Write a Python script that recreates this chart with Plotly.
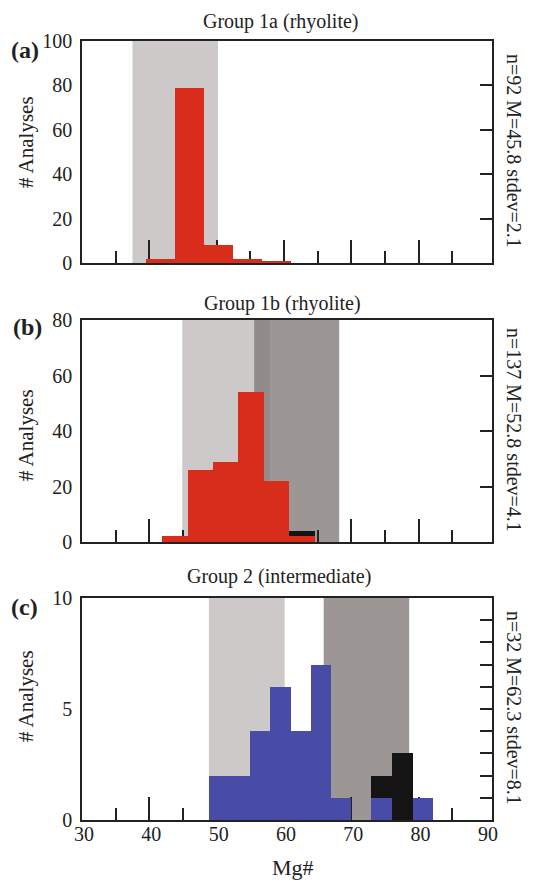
import numpy as np
import plotly.graph_objects as go

# ---------------- data ----------------
X_RANGE = [30, 90.9]
x_label_vals = [30, 40, 50, 60, 70, 80, 90]
x_major_ticks = [40, 50, 60, 70, 80]
x_minor_ticks = [35, 45, 55, 65, 75, 85]

titles = ["Group 1a (rhyolite)", "Group 1b (rhyolite)", "Group 2 (intermediate)"]
panel_tags = ["(a)", "(b)", "(c)"]
stats = ["n=92 M=45.8 stdev=2.1", "n=137 M=52.8 stdev=4.1", "n=32 M=62.3 stdev=8.1"]

a_edges = [39.5, 43.8, 48.1, 52.4, 56.7, 61.0]
a_red = [2, 79, 8, 2, 1]
a_light = [37.5, 50.2]

b_edges = [41.9, 45.7, 49.5, 53.2, 57.1, 60.8, 64.6]
b_red = [2, 26, 29, 54, 22, 2]
b_black = [0, 0, 0, 0, 0, 2]
b_light = [44.9, 57.9]
b_dark = [55.6, 68.2]

c_edges = [48.8, 51.85, 54.9, 57.95, 61.0, 64.0, 67.0, 70.0, 73.0, 76.0, 79.1, 82.1]
c_blue = [2, 2, 4, 6, 4, 7, 1, 0, 1, 0, 1]
c_black = [0, 0, 0, 0, 0, 0, 0, 0, 1, 3, 0]
c_light = [48.85, 60.1]
c_dark = [65.9, 78.6]

y_ranges = [[0, 100], [0, 80], [0, 10]]
y_label_vals = [[0, 20, 40, 60, 80, 100], [0, 20, 40, 60, 80], [0, 5, 10]]
y_right_ticks = [[20, 40, 60, 80], [20, 40, 60], [1, 2, 3, 4, 5, 6, 7, 8, 9]]

# ---------------- style ----------------
RED = "#d92d1c"
BLUE = "#484ca6"
BLACK = "#141414"
LIGHT = "#cdc9c8"
DARK = "#9c9795"
OVERLAP = "#918b89"
INK = "#222222"
FONT = "Liberation Serif"

W, H = 536, 885
ML, MR, MT, MB = 82, 44, 41, 65
PH = H - MT - MB
panel_px = [(41, 263), (320, 542), (598, 820)]


def ypaper(px):
    return (H - MB - px) / PH


domains = [[ypaper(b), ypaper(t)] for t, b in panel_px]


def centers_widths(edges):
    e = np.array(edges, dtype=float)
    return (e[:-1] + e[1:]) / 2, np.diff(e)


fig = go.Figure()

panels = [
    {"edges": a_edges, "series": [(a_red, RED)], "light": a_light, "dark": None},
    {"edges": b_edges, "series": [(b_red, RED), (b_black, BLACK)], "light": b_light, "dark": b_dark},
    {"edges": c_edges, "series": [(c_blue, BLUE), (c_black, BLACK)], "light": c_light, "dark": c_dark},
]

shapes = []
for i, p in enumerate(panels):
    n = i + 1
    xr = "x" if n == 1 else f"x{n}"
    yr = "y" if n == 1 else f"y{n}"
    cx, wx = centers_widths(p["edges"])
    for vals, col in p["series"]:
        fig.add_trace(go.Bar(
            x=cx, y=vals, width=wx, marker=dict(color=col, line=dict(width=0)),
            xaxis=xr, yaxis=yr, showlegend=False, hoverinfo="skip"))
    # shaded ranges
    shapes.append(dict(type="rect", xref=xr, yref=f"{yr} domain", x0=p["light"][0], x1=p["light"][1],
                       y0=0, y1=1, fillcolor=LIGHT, line=dict(width=0), layer="below"))
    if p["dark"] is not None:
        shapes.append(dict(type="rect", xref=xr, yref=f"{yr} domain", x0=p["dark"][0], x1=p["dark"][1],
                           y0=0, y1=1, fillcolor=DARK, line=dict(width=0), layer="below"))
        lo = max(p["light"][0], p["dark"][0])
        hi = min(p["light"][1], p["dark"][1])
        if hi > lo:
            shapes.append(dict(type="rect", xref=xr, yref=f"{yr} domain", x0=lo, x1=hi,
                               y0=0, y1=1, fillcolor=OVERLAP, line=dict(width=0), layer="below"))

layout = dict(
    width=W, height=H, margin=dict(l=ML, r=MR, t=MT, b=MB),
    paper_bgcolor="white", plot_bgcolor="white", barmode="stack", bargap=0,
    font=dict(family=FONT, size=20, color=INK), shapes=shapes, showlegend=False,
)

for i in range(3):
    n = i + 1
    xk = "xaxis" if n == 1 else f"xaxis{n}"
    yk = "yaxis" if n == 1 else f"yaxis{n}"
    ya = "y" if n == 1 else f"y{n}"
    xa = "x" if n == 1 else f"x{n}"
    layout[xk] = dict(
        domain=[0, 1], anchor=ya, range=X_RANGE, showgrid=False, zeroline=False,
        showline=True, mirror=True, linecolor=INK, linewidth=1.5,
        tickmode="array", tickvals=x_major_ticks, ticks="inside", ticklen=23,
        tickwidth=1.5, tickcolor=INK, showticklabels=False, layer="below traces",
        minor=dict(tickmode="array", tickvals=x_minor_ticks, ticks="inside", ticklen=12,
                   tickwidth=1.5, tickcolor=INK, showgrid=False),
    )
    layout[yk] = dict(
        domain=domains[i], anchor=xa, range=y_ranges[i], showgrid=False, zeroline=False,
        showline=True, mirror=True, linecolor=INK, linewidth=1.5,
        tickmode="array", tickvals=y_label_vals[i], ticks="", showticklabels=True,
        ticklabelstandoff=4,
        tickfont=dict(size=20, family=FONT, color=INK),
    )
    # right-side inward ticks
    layout[f"yaxis{n + 3}"] = dict(
        overlaying=ya, anchor=xa, side="right", range=y_ranges[i], showgrid=False,
        zeroline=False, showline=False, tickmode="array", tickvals=y_right_ticks[i],
        ticks="inside", ticklen=12, tickwidth=1.5, tickcolor=INK, showticklabels=False,
    )

# x labels for bottom panel on an overlay axis
layout["xaxis4"] = dict(
    overlaying="x3", anchor="y3", range=X_RANGE, showgrid=False, zeroline=False,
    showline=False, tickmode="array", tickvals=x_label_vals, ticks="", side="bottom",
    ticklabelshift=2,
    tickfont=dict(size=20, family=FONT, color=INK),
)

fig.update_layout(**layout)

# invisible traces so overlay axes are drawn
for n in range(1, 4):
    xa = "x" if n == 1 else f"x{n}"
    fig.add_trace(go.Scatter(x=[X_RANGE[0]], y=[y_ranges[n - 1][0]], xaxis=xa, yaxis=f"y{n + 3}",
                             mode="markers", marker=dict(opacity=0), showlegend=False, hoverinfo="skip"))
fig.add_trace(go.Scatter(x=[X_RANGE[0]], y=[0], xaxis="x4", yaxis="y3", mode="markers",
                         marker=dict(opacity=0), showlegend=False, hoverinfo="skip"))

# annotations
title_px = [(281, 21), (282, 304), (279, 576)]
tag_px = [(25, 50), (27, 327), (24, 607)]
ytitle_py = [142, 435, 696]
stat_py = [151, 430, 708]

ann = []
for i in range(3):
    tx, ty = title_px[i]
    ann.append(dict(text=titles[i], xref="paper", yref="paper", x=(tx - ML) / (W - ML - MR), y=ypaper(ty),
                    xanchor="center", yanchor="middle", showarrow=False,
                    font=dict(size=20, family=FONT, color=INK)))
    gx, gy = tag_px[i]
    ann.append(dict(text=f"<b>{panel_tags[i]}</b>", xref="paper", yref="paper", x=(gx - ML) / (W - ML - MR),
                    y=ypaper(gy), xanchor="center", yanchor="middle", showarrow=False,
                    font=dict(size=24, family=FONT, color=INK)))
    ann.append(dict(text="# Analyses", xref="paper", yref="paper", x=(26 - ML) / (W - ML - MR),
                    y=ypaper(ytitle_py[i]), xanchor="center", yanchor="middle", textangle=-90,
                    showarrow=False, font=dict(size=21, family=FONT, color=INK)))
    ann.append(dict(text=stats[i], xref="paper", yref="paper", x=(514 - ML) / (W - ML - MR),
                    y=ypaper(stat_py[i]), xanchor="center", yanchor="middle", textangle=90,
                    showarrow=False, font=dict(size=20, family=FONT, color=INK)))

ann.append(dict(text="Mg#", xref="paper", yref="paper", x=(293 - ML) / (W - ML - MR), y=ypaper(868),
                xanchor="center", yanchor="middle", showarrow=False,
                font=dict(size=22, family=FONT, color=INK)))
fig.update_layout(annotations=ann)

fig.write_html("out.html", config={"displayModeBar": False},
               post_script="document.body.style.margin='0px';")
